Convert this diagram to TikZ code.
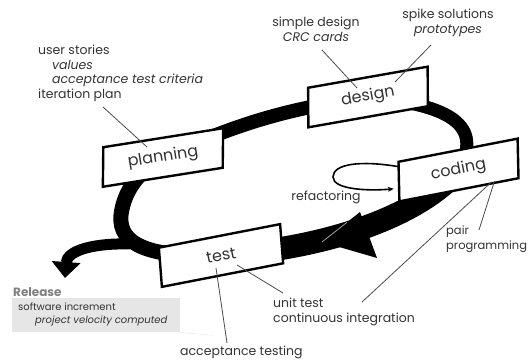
\documentclass[tikz,border=0pt]{standalone}
\usepackage{fontspec}
\setmainfont{Poppins}
\usepackage{xcolor}
\usetikzlibrary{positioning,calc,shapes.geometric,arrows.meta,backgrounds}
\definecolor{inkgray}{HTML}{333333}
\definecolor{leadgray}{HTML}{4A4A4A}
\definecolor{releasegray}{HTML}{E6E6E6}

\begin{document}
\begin{tikzpicture}[x=1pt,y=1pt,
        stage/.style={draw, line width=2.4pt, fill=white, trapezium,
            trapezium left angle=68, trapezium right angle=112,
            trapezium stretches body, minimum width=128pt, minimum height=39pt,
            inner sep=0pt, text=inkgray, font=\fontsize{16}{16}\selectfont},
        band/.style={line width=#1, draw=black},
        band/.default=14pt,
        leader/.style={draw=leadgray, line width=0.8pt},
        note/.style={inner sep=0pt, align=left, text=inkgray,
            font=\fontsize{12.5}{14.5}\selectfont}]
    \useasboundingbox (0,0) rectangle (530,-363);

    % the four stages
    \node[stage, rotate=9]    (planning) at (163,-157.5) {planning};
    \node[stage, rotate=10]   (design)   at (368,-97)    {design};
    \node[stage, rotate=11]   (coding)   at (458.5,-170) {coding};
    \node[stage, rotate=11]   (test)     at (221,-255.5) {test};

    \coordinate (loopwest)   at (121,-215);
    \coordinate (fork)       at (130,-244);
    \coordinate (releasetip) at (65,-278);
    \coordinate (bigtip)     at (322,-242);
    \coordinate (bigtop)     at (360,-212);
    \coordinate (bigbottom)  at (377,-258);

    % the iteration loop
    \begin{scope}[on background layer]
        \draw[band=14pt] (planning.center) to[bend left=8] (design.center);
        \draw[band=13pt] (design.center) .. controls (450,-105) and (484,-125) .. (coding.center);
        \draw[band=23pt] (coding.center) .. controls (420,-215) and (330,-248) .. (test.center);
        \draw[band=15pt] (test.center) .. controls (150,-258) and (118,-245) .. (loopwest)
            .. controls (124,-190) and (140,-170) .. (planning.center);
        \draw[band=11pt, -{Triangle[length=16pt,width=28pt]}] (fork)
            .. controls (95,-243) and (67,-250) .. (releasetip);
    \end{scope}
    \fill (bigtip) -- (bigtop) -- (bigbottom) -- cycle;
    \draw[gray!60, line width=0.7pt] (bigtip) -- ($(bigtip)!0.65!(bigtop)$);

    % refactoring
    \draw[line width=1.6pt, -{Stealth[length=6pt,width=5pt]}] ($(coding.west)+(1.5,15)$)
        .. controls (360,-160) and (333,-164) .. (333,-177)
        .. controls (333,-190) and (370,-191) .. ($(coding.west)+(-4,-7)$);
    \node[note] (refactoring) at (326,-197) {refactoring};

    % notes
    \node[note, anchor=north west] (planningnote) at (38,-45)
        {user stories\\\hspace*{14pt}\textit{values}\\\hspace*{14pt}\textit{acceptance test criteria}\\iteration plan};
    \node[note, anchor=north, align=center] (designnote) at (316,-17) {simple design\\\textit{CRC cards}};
    \node[note, anchor=north, align=center] (spikenote) at (448,-9) {spike solutions\\\textit{prototypes}};
    \node[note, anchor=north west, font=\fontsize{11.5}{14.5}\selectfont] (pairnote) at (446,-226) {pair\\programming};
    \node[note, anchor=north west] (unitnote) at (273,-298) {unit test\\continuous integration};
    \node[note, anchor=north west] (acceptnote) at (180,-346) {acceptance testing};

    % release
    \node[fill=releasegray, anchor=north west, minimum width=168pt, minimum height=34pt,
        inner sep=0pt] (releasebox) at (12,-298) {};
    \node[note, anchor=north west, text=gray, font=\bfseries\fontsize{12}{14}\selectfont]
        (release) at (13,-287) {Release};
    \node[note, anchor=north west, font=\fontsize{10}{13}\selectfont] (releasenote) at (18,-303)
        {software increment\\\hspace*{17pt}\textit{project velocity computed}};

    % leaders
    \draw[leader] ($(planningnote.north west)+(65,-62)$) -- ($(planning.center)+(-16,10.5)$);
    \draw[leader] ($(designnote.north)+(6,-33)$) -- ($(design.center)+(-11,9)$);
    \draw[leader] ($(spikenote.north)+(-17,-36)$) -- ($(design.center)+(27,15)$);
    \draw[leader] ($(pairnote.north west)+(33,-4)$) -- ($(coding.center)+(36,-11)$);
    \draw[leader] ($(unitnote.north west)+(89,-4)$) -- ($(coding.center)+(33,-12)$);
    \draw[leader] ($(unitnote.north west)+(10,5)$) -- ($(test.center)+(16,-9.5)$);
    \draw[leader] ($(acceptnote.north west)+(47,3)$) -- ($(test.center)+(-5,-12.5)$);
    \draw[gray!45, line width=0.5pt, densely dotted] (releasebox.south east) -- ++(33,-3);
\end{tikzpicture}
\end{document}
